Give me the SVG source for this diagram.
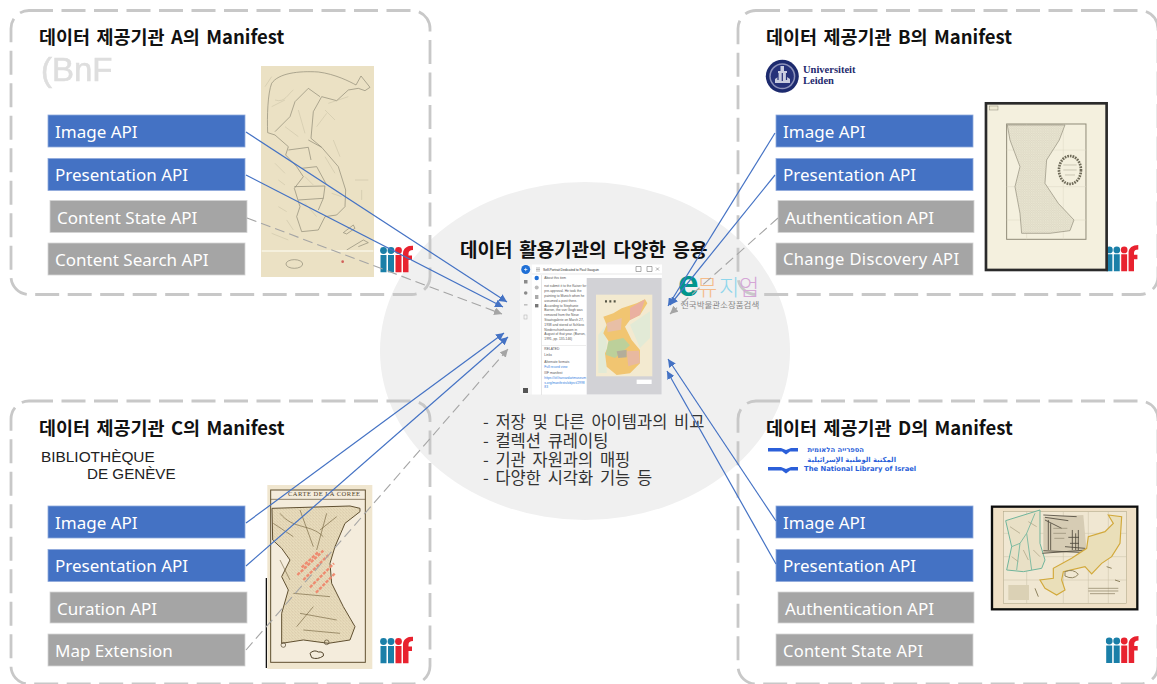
<svg xmlns="http://www.w3.org/2000/svg" width="1157" height="684" viewBox="0 0 1157 684">
<defs>
<style>
.panel{fill:none;stroke:#c8c8c8;stroke-width:2.800;stroke-dasharray:24 8.500}
.ttl{font:bold 18.500px "Noto Sans CJK KR","Noto Sans",sans-serif;fill:#111;word-spacing:2.200px}
.blue{fill:#4472c4;stroke:#8faadc;stroke-width:.8}
.grey{fill:#a5a5a5;stroke:#d4d4d4;stroke-width:.8}
.lbl{font:17px "Noto Sans","Noto Sans CJK KR",sans-serif;fill:#fff}
.lbn{font:16.500px "Noto Sans","Noto Sans CJK KR",sans-serif;fill:#fff}
.c{fill:none;stroke:#4472c4;stroke-width:1.200}
.d{fill:none;stroke:#a5a5a5;stroke-width:1.100;stroke-dasharray:10 5}
.body{font:16.500px "Noto Sans CJK KR",sans-serif;fill:#333;word-spacing:3px}
.ln{fill:none;stroke:#8b8672;stroke-width:2}
.thin{fill:none;stroke:#b3ad92;stroke-width:1}
.sm{font:3.300px "Liberation Sans",sans-serif;fill:#555}
.lk{font:3.300px "Liberation Sans",sans-serif;fill:#2f7de1}
.nli{font:bold 6.800px "DejaVu Sans",sans-serif;fill:#2b5fd9}
.ic{fill:#8a8a8a}
</style>
<filter id="soft" x="-5%" y="-5%" width="110%" height="110%"><feGaussianBlur stdDeviation=".45"/></filter>
<pattern id="speck" width="7" height="7" patternUnits="userSpaceOnUse"><rect width="7" height="7" fill="#ecE8d4"/><path d="M1 1h2M4 3h2M2 5h1M5 6h1" stroke="#aaa691" stroke-width="1.200"/></pattern>
<pattern id="speck2" width="9" height="9" patternUnits="userSpaceOnUse"><rect width="9" height="9" fill="#eee2c4"/><path d="M1 2l3 2M6 1l2 3M2 7l3-1M6 6l2 2" stroke="#a8966c" stroke-width="1.200"/></pattern>
<symbol id="iiif" viewBox="0 0 33 27">
<path fill="#1a7fa8" d="M.500 9.500h6V27h-6zM8 9.500h6V27H8z"/>
<ellipse cx="3.500" cy="5" rx="3.400" ry="3.400" fill="#1a7fa8"/><ellipse cx="11" cy="5" rx="3.400" ry="3.400" fill="#1a7fa8"/>
<path fill="#e8222f" d="M15.500 9.500h6V27h-6z"/><ellipse cx="18.500" cy="5" rx="3.400" ry="3.400" fill="#e8222f"/>
<path fill="#e8222f" d="M23 27V8C23 3 27 0 33 0v4.500c-3 0-4.500 1-4.500 4v1.500H32v4.500h-3.500V27z"/>
</symbol>
<marker id="ab" viewBox="0 0 10 10" refX="10" refY="5" markerWidth="8" markerHeight="8" markerUnits="userSpaceOnUse" orient="auto"><path d="M0 0L10 5L0 10Z" fill="#4472c4"/></marker>
<marker id="ag" viewBox="0 0 10 10" refX="10" refY="5" markerWidth="8" markerHeight="8" markerUnits="userSpaceOnUse" orient="auto"><path d="M0 0L10 5L0 10Z" fill="#a5a5a5"/></marker>
</defs>
<rect width="1157" height="684" fill="#fff"/>
<ellipse id="hub-bg" cx="585" cy="351" rx="205" ry="169" fill="#f0f0f0"/>

<g id="panel-a">
<rect class="panel" x="11" y="10.500" width="419" height="284" rx="18"/>
<text class="ttl" x="39" y="44">데이터 제공기관 A의 Manifest</text>
<text x="41" y="81" font-family="Liberation Sans,sans-serif" font-size="33" fill="#dedede" stroke="#dedede" stroke-width=".6" filter="url(#soft)">(BnF</text>
<g filter="url(#soft)">
<rect x="261" y="66" width="113" height="211" fill="#ebe1c4"/>
<g transform="translate(255 60) scale(.3333)">
<path class="ln" d="M38 218C36 170 38 100 50 70C70 40 130 32 190 36C240 42 285 65 303 75L318 48L345 82L330 92L310 85L280 90L245 122L200 110L175 155L168 235L200 262L250 320L272 390L270 440L245 465L210 470L190 510L140 515L125 470L135 440L118 385L145 350L125 320L92 285L100 260L60 225Z"/>
<path class="ln" d="M60 215L105 170L120 125L160 85L195 110M100 270L160 262L168 300M140 325L185 320L215 375M118 380L210 378L205 415L130 420M190 450L205 415M200 262L160 240"/>
<path class="thin" d="M60 120C90 130 100 100 115 90M130 150L150 220M210 150L240 180M220 130L280 110M90 200L130 230M210 290L240 340M150 430L185 470M60 310L90 340M50 520L100 540M70 360l20 15M300 360h40M320 390v30M50 140l40-20M185 200l30-40M235 240l20 50M150 350l25 25M230 400l30 10M70 440l25 15M95 480l20 30M30 80l20-30"/>
<path class="ln" d="M265 518L295 495L300 505L275 522ZM275 570L325 540L340 548L310 560"/>
<ellipse cx="118" cy="612" rx="25" ry="13" fill="none" stroke="#8b8672" stroke-width="2"/>
<path d="M20 573H355" stroke="#f8f4e6" stroke-width="4"/>
<circle cx="263" cy="605" r="4" fill="#d0605a"/>
</g>
</g>
<use href="#iiif" x="380" y="245.500" width="33" height="27"/>
<rect class="blue" x="48" y="115" width="197" height="32"/><text class="lbl" x="55" y="138">Image API</text>
<rect class="blue" x="48" y="158.500" width="197" height="32"/><text class="lbl" x="55" y="181">Presentation API</text>
<rect class="grey" x="50" y="200.500" width="197" height="32"/><text class="lbl" x="57" y="224">Content State API</text>
<rect class="grey" x="48" y="243" width="197" height="32"/><text class="lbl" x="55" y="266">Content Search API</text>
</g>

<g id="panel-b">
<rect class="panel" x="738" y="10.500" width="420" height="284" rx="18"/>
<text class="ttl" x="766" y="44">데이터 제공기관 B의 Manifest</text>
<g filter="url(#soft)">
<circle cx="782.300" cy="76.300" r="16.500" fill="#1f2a6e"/>
<circle cx="782.300" cy="76.300" r="13" fill="#8d93bb"/>
<circle cx="782.300" cy="76.300" r="11.500" fill="#27327a"/>
<path d="M780.500 66h3.500v5h3v6l3 2v4h-15v-4l3-2v-6h2.500z" fill="#c9cde0"/>
<path d="M778 73v7M782.300 73v8M786.500 73v7" stroke="#27327a" stroke-width="1.200"/>
</g>
<text x="803" y="72.500" font-family="Liberation Serif,serif" font-weight="bold" font-size="10.500" fill="#1f2a6e">Universiteit</text>
<text x="803" y="83.500" font-family="Liberation Serif,serif" font-weight="bold" font-size="10.500" fill="#1f2a6e">Leiden</text>
<use href="#iiif" x="1105.700" y="245" width="33" height="26.500"/>
<g filter="url(#soft)" transform="translate(730 0) scale(.3333)">
<rect x="768" y="310" width="362" height="500" fill="#f4f0de" stroke="#2a2a2a" stroke-width="8"/>
<rect x="830" y="372" width="238" height="346" fill="none" stroke="#8f8b78" stroke-width="3"/>
<path d="M830 450H1068M830 560H1068M830 660H1068M890 372V718M1000 372V718" stroke="#dcd8c5" stroke-width="1.500"/>
<path d="M832 375L1005 375L988 420L950 480L945 550L985 610L1032 660L1020 692L960 700H875L870 640L855 560L870 500L840 420Z" fill="url(#speck)" stroke="#8f8b78" stroke-width="2"/>
<ellipse cx="1020" cy="510" rx="33" ry="42" fill="#f4f0de" stroke="#6e6a58" stroke-width="8" stroke-dasharray="5 3"/>
<path d="M1000 495h40M1000 510h40M1005 525h30" stroke="#b5b19d" stroke-width="2"/>
<rect x="778" y="318" width="26" height="12" fill="#eee9d2" stroke="#8f8b78" stroke-width="1.500"/>
</g>
<rect class="blue" x="776" y="115" width="197" height="32"/><text class="lbl" x="783" y="138">Image API</text>
<rect class="blue" x="776" y="158.500" width="197" height="32"/><text class="lbl" x="783" y="181">Presentation API</text>
<rect class="grey" x="778" y="200.500" width="196" height="32"/><text class="lbl" x="785" y="224">Authentication API</text>
<rect class="grey" x="776" y="243" width="197" height="32"/><text class="lbn" x="783" y="265" textLength="176">Change Discovery API</text>
</g>

<g id="panel-c">
<rect class="panel" x="11" y="401" width="419" height="283" rx="18"/>
<text class="ttl" x="39" y="435">데이터 제공기관 C의 Manifest</text>
<text x="41" y="461.500" font-family="Liberation Sans,sans-serif" font-size="15.400" fill="#222">BIBLIOTHÈQUE</text>
<text x="87" y="479" font-family="Liberation Sans,sans-serif" font-size="15.200" fill="#222">DE GENÈVE</text>
<g filter="url(#soft)" transform="translate(260 480) scale(.3333)">
<rect x="22" y="15" width="315" height="552" fill="#f0e6cf"/>
<rect x="32" y="30" width="284" height="517" fill="#f4ecdc" stroke="#5f4f30" stroke-width="3"/>
<path d="M32 58H316" stroke="#5f4f30" stroke-width="2"/>
<path d="M36 85L270 78L300 85V95L255 130L225 200L210 250L215 310L250 380L285 440L270 480L205 490L130 480L65 490V400L85 330L65 290L90 240L65 205L38 180Z" fill="url(#speck2)" stroke="#5f4f30" stroke-width="3"/>
<path d="M60 100C100 150 150 130 190 170M120 90L160 200M200 100L170 210M100 340L210 350M120 400L230 420M110 440L160 380M40 130L100 170M230 110L180 150M90 300L60 240M130 450L240 460" fill="none" stroke="#6d5c38" stroke-width="1.800"/>
<g stroke="#ee8b70" stroke-width="7" stroke-dasharray="10 4"><path d="M130 300L205 225M112 285L190 212M150 322L222 250M125 262L175 216M168 338L225 280"/></g>
<path d="M150 520q12-12 25-4q18-2 15 12q-18 12-35 5z" fill="none" stroke="#4f4128" stroke-width="3"/>
<circle cx="70" cy="495" r="7" fill="none" stroke="#4f4128" stroke-width="2"/><circle cx="200" cy="487" r="7" fill="none" stroke="#4f4128" stroke-width="2"/>
</g>
<text x="288" y="496" font-family="Liberation Serif,serif" font-size="6.500" letter-spacing=".5" fill="#4f4128">CARTE DE LA COREE</text>
<rect x="265.700" y="578" width="1.300" height="90" fill="#111"/>
<use href="#iiif" x="380" y="636.500" width="33" height="27"/>
<rect class="blue" x="48" y="506" width="197" height="32"/><text class="lbl" x="55" y="529">Image API</text>
<rect class="blue" x="48" y="549.500" width="197" height="32"/><text class="lbl" x="55" y="572">Presentation API</text>
<rect class="grey" x="50" y="592" width="197" height="31"/><text class="lbl" x="57" y="615">Curation API</text>
<rect class="grey" x="48" y="634" width="197" height="32"/><text class="lbl" x="55" y="657">Map Extension</text>
</g>

<g id="panel-d">
<rect class="panel" x="738" y="401" width="420" height="283" rx="18"/>
<text class="ttl" x="766" y="435">데이터 제공기관 D의 Manifest</text>
<path d="M768 448h13l5 2 5-2h7v3.500h-8l-4 3-4-3h-14zM768 467h13l5 2 5-2h7v3.500h-8l-4 3-4-3h-14z" fill="#2b5fd9"/>
<text class="nli" x="864" y="452" direction="rtl" unicode-bidi="plaintext">הספרייה הלאומית</text>
<text class="nli" x="896" y="461.500" direction="rtl" unicode-bidi="plaintext">المكتبة الوطنية الإسرائيلية</text>
<text class="nli" x="804" y="471" font-size="6.500">The National Library of Israel</text>
<g filter="url(#soft)" transform="translate(985 500) scale(.3333)">
<rect x="21" y="20" width="436" height="308" fill="#efe0c6" stroke="#111" stroke-width="7"/>
<rect x="55" y="35" width="370" height="275" fill="#f0e7d2" stroke="#a89f80" stroke-width="1.500"/>
<path d="M55 100H425M55 170H425M55 240H425M125 35V310M235 35V310M310 35V310M370 35V310" stroke="#c8c0a6" stroke-width="1.500"/>
<path d="M62 62L165 30L165 130L180 180L170 205L115 215L65 210L80 140Z" fill="#e9e0c6" stroke="#6fb59c" stroke-width="3"/>
<path d="M95 210L105 130L125 100L150 40M125 100L140 210M80 140L105 130" fill="none" stroke="#6fb59c" stroke-width="2.500"/>
<path d="M75 80l30 20M80 170l20 15M115 150l15 30M145 150l20 20M130 65l25 15" stroke="#a89f80" stroke-width="2" fill="none"/>
<path d="M175 50L295 45L305 155L175 160Z" fill="#d6ccb4"/>
<path d="M180 52L250 62M175 45l100 5M180 60l50 25M175 152L305 158M172 160L305 150M190 60V150M197 70V150M262 90V150M250 112h32M255 130h27M280 90V150M272 100V150M240 140l60 5" stroke="#4d473b" stroke-width="2.500" fill="none"/>
<path d="M205 85h42M205 100h38M208 115h30" stroke="#8f8670" stroke-width="2"/>
<path d="M370 45L410 50L405 130L380 170L350 190L320 222L300 200L235 215L230 240L240 270L215 285L180 265L165 240L205 235L205 205L260 175L305 145L310 110L360 95L385 70Z" fill="#eadfb9" stroke="#d2a93b" stroke-width="3.500"/>
<path d="M240 215q25-10 40 8q-15 18-40 5zM365 200l15 5M390 240l15 5M150 265l10 25" fill="none" stroke="#8f835f" stroke-width="3"/>
<rect x="70" y="255" width="62" height="45" fill="#dbd1b5"/>
<path d="M310 265h90M310 273h90M315 281h75" stroke="#85795c" stroke-width="2"/>
</g>
<use href="#iiif" x="1105.700" y="636" width="33" height="27"/>
<rect class="blue" x="776" y="506" width="197" height="32"/><text class="lbl" x="783" y="529">Image API</text>
<rect class="blue" x="776" y="549.500" width="197" height="32"/><text class="lbl" x="783" y="572">Presentation API</text>
<rect class="grey" x="778" y="592" width="196" height="31"/><text class="lbl" x="785" y="615">Authentication API</text>
<rect class="grey" x="776" y="634" width="197" height="32"/><text class="lbn" x="783" y="656.500" textLength="140">Content State API</text>
</g>

<g id="hub">
<text x="460" y="257" font-family="Noto Sans CJK KR,sans-serif" font-weight="bold" font-size="19" word-spacing="2.400" fill="#111">데이터 활용기관의 다양한 응용</text>
<g id="viewer">
<rect x="520" y="264.500" width="12" height="130" fill="#f6f6f6"/>
<rect x="532" y="264.500" width="130" height="130" fill="#fff"/>
<rect x="532" y="273.500" width="130" height="1" fill="#e8e8e8"/>
<circle cx="525.700" cy="269.500" r="4.500" fill="#1f6fd6"/>
<path d="M524 269.500h3.400M525.700 267.800v3.400" stroke="#fff" stroke-width=".7"/>
<rect class="ic" x="524" y="280" width="3.500" height="3.500"/><circle class="ic" cx="525.700" cy="293" r="1.800"/><rect class="ic" x="524" y="304.500" width="3.500" height=".8"/><rect x="524" y="315" width="3" height="4" fill="none" stroke="#aaa" stroke-width=".5"/>
<rect x="523" y="388" width="5" height="5" fill="#555"/>
<circle cx="536.700" cy="278" r="2.200" fill="#1f6fd6"/><circle cx="536.700" cy="287.500" r="2" fill="#bbb"/><rect x="535" y="295" width="3.400" height="4" fill="#aaa"/><rect x="535" y="304" width="3.400" height="3.400" fill="#777"/>
<rect x="541" y="275" width="1" height="120" fill="#e6e6e6"/>
<rect x="586.700" y="278" width="75" height="116.500" fill="#d2d2d6"/>
<g filter="url(#soft)" transform="translate(515 258) scale(.3333)">
<rect x="243" y="110" width="169" height="245" fill="#f3ead0"/>
<path d="M250 230L275 200V345H250ZM345 200L405 160V240L375 270Z" fill="#e2ead6"/>
<path d="M265 176L295 166L320 151L365 136L390 124L397 136L375 171L345 186L330 206L350 246L375 276L375 316L345 346L305 351L275 326L270 286L285 256L265 226L275 201Z" fill="#f1c571"/>
<path d="M280 250L325 240L345 262L300 300L272 290Z" fill="#bcd09a"/><path d="M275 195L320 180L318 215L278 222Z" fill="#e8bfa6"/><path d="M335 280L372 278L375 315L340 325Z" fill="#e8b9a0"/><path d="M345 150L390 124L375 171L345 186Z" fill="#eab0a0"/><path d="M305 280L335 275V298L310 300Z" fill="#b3ad9a"/>
<path d="M270 130h6M283 130h6M296 130h6" stroke="#554" stroke-width="7"/>
<rect x="365" y="365" width="45" height="13" fill="#fff"/>
</g>
<text x="543" y="270.500" font-family="Liberation Sans,sans-serif" font-size="3.400" fill="#333" textLength="56">Self-Portrait Dedicated to Paul Gauguin</text>
<path d="M636 266.500h5v5h-5zM647 266.500h5v5h-5zM656 267.500l3 3M659 267.500l-3 3" fill="none" stroke="#777" stroke-width=".6"/>
<path d="M536 268h4M536 269.500h4M536 271h4" stroke="#777" stroke-width=".5"/>
<text class="sm" x="544.300" y="279" font-size="2.800">About this item</text>
<g>
<text class="sm" x="544.300" y="287.300">not submit it to the Kaiser for</text>
<text class="sm" x="544.300" y="292.100">pre-approval. He took the</text>
<text class="sm" x="544.300" y="296.900">painting to Munich when he</text>
<text class="sm" x="544.300" y="301.700">assumed a post there.</text>
<text class="sm" x="544.300" y="306.500">According to Stephanie</text>
<text class="sm" x="544.300" y="311.300">Barron, the van Gogh was</text>
<text class="sm" x="544.300" y="316.100">removed from the Neue</text>
<text class="sm" x="544.300" y="320.900">Staatsgalerie on March 27,</text>
<text class="sm" x="544.300" y="325.700">1938 and stored at Schloss</text>
<text class="sm" x="544.300" y="330.500">Niederschönhausen in</text>
<text class="sm" x="544.300" y="335.300">August of that year. (Barron,</text>
<text class="sm" x="544.300" y="340.100">1991, pp. 135-146)</text>
</g>
<rect x="542" y="345" width="44" height=".6" fill="#e2e2e2"/>
<text class="sm" x="544.300" y="350.300" font-size="2.400">RELATED</text>
<text class="sm" x="544.300" y="355.700" font-weight="bold">Links</text>
<text class="sm" x="544.300" y="363.300" font-size="2.800">Alternate formats</text>
<text class="lk" x="544.300" y="368">Full record view</text>
<text class="sm" x="544.300" y="374" font-size="2.800">IIIF manifest</text>
<text class="lk" x="544.300" y="378.700">https://iiif.harvardartmuseum</text>
<text class="lk" x="544.300" y="383.500">s.org/manifests/object/2998</text>
<text class="lk" x="544.300" y="388.200">83</text>
</g>
<g id="emuseum">
<text x="678" y="296" font-family="Liberation Sans,sans-serif" font-weight="bold" font-size="37" fill="#00968c">e</text>
<text x="697" y="295" font-family="Noto Sans CJK KR,sans-serif" font-weight="300" font-size="22" fill="#f4bb8a">뮤</text>
<text x="719" y="295" font-family="Noto Sans CJK KR,sans-serif" font-weight="300" font-size="22" fill="#8fd6ec">지</text>
<text x="739" y="295" font-family="Noto Sans CJK KR,sans-serif" font-weight="300" font-size="22" fill="#d5a6d6">엄</text>
<text x="681" y="308" font-family="Noto Sans CJK KR,sans-serif" font-size="8.500" fill="#888">전국박물관소장품검색</text>
</g>
<text class="body" x="483" y="428">- 저장 및 다른 아이템과의 비교</text>
<text class="body" x="483" y="447">- 컬렉션 큐레이팅</text>
<text class="body" x="483" y="465.500">- 기관 자원과의 매핑</text>
<text class="body" x="483" y="484">- 다양한 시각화 기능 등</text>
</g>

<g id="connectors">
<path class="c" marker-end="url(#ab)" d="M246 132L507 302"/>
<path class="c" marker-end="url(#ab)" d="M246 175L503 307"/>
<path class="d" marker-end="url(#ag)" d="M247 218L502 314"/>
<path class="c" marker-end="url(#ab)" d="M246 523L504 333"/>
<path class="c" marker-end="url(#ab)" d="M246 566L508 337"/>
<path class="d" marker-end="url(#ag)" d="M246 650L508 349"/>
<path class="c" marker-end="url(#ab)" d="M775 133L668 306"/>
<path class="c" marker-end="url(#ab)" d="M775 175L670 305"/>
<path class="d" marker-end="url(#ag)" d="M778 218L670 314"/>
<path class="c" marker-end="url(#ab)" d="M776 521L668 359"/>
<path class="c" marker-end="url(#ab)" d="M776 564L667 371"/>
</g>
</svg>
